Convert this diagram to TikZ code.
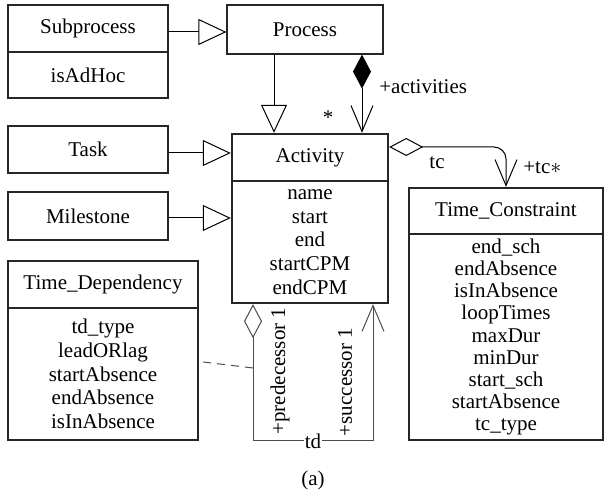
\documentclass[tikz,border=0pt]{standalone}
\usepackage{fontspec}
\setmainfont{Liberation Serif}
\usetikzlibrary{arrows.meta}

\begin{document}
\begin{tikzpicture}[x=0.5pt, y=-0.5pt,
    cls/.style={rectangle, draw=black!85, line width=0.6pt, inner sep=0pt, align=center, font=\fontsize{10.5}{12}\selectfont},
    boldcls/.style={cls, line width=1.2pt},
    gen/.style={-{Triangle[open, length=14pt, width=13pt]}, line width=0.5pt},
    comp/.style={{Diamond[length=17pt, width=9pt]}-{Straight Barb[length=13pt, width=11pt]}, line width=0.5pt},
    agg/.style={{Diamond[open, length=17pt, width=9pt]}-{Straight Barb[length=13pt, width=11pt]}, line width=0.5pt},
    lbl/.style={font=\fontsize{10.5}{12}\selectfont, inner sep=1pt}]
    \useasboundingbox (0,0) rectangle (611,491);

    % Process hierarchy
    \node (sub) [cls, minimum width=80pt, minimum height=23.5pt] at (88,28.5) {Subprocess};
    \node (subB) [cls, minimum width=80pt, minimum height=23pt] at (88,75) {isAdHoc};
    \node (proc) [cls, minimum width=78pt, minimum height=24.5pt] at (305,29.5) {Process};
    \node (task) [cls, minimum width=80pt, minimum height=23.5pt] at (88,149.5) {Task};
    \node (ms) [cls, minimum width=80pt, minimum height=24pt] at (88,216) {Milestone};

    % Activity
    \node (act) [boldcls, minimum width=78pt, minimum height=23.5pt] at (310,157.5) {Activity};
    \node (actB) [boldcls, minimum width=78pt, minimum height=61pt, font=\fontsize{10.5}{11.9}\selectfont] at (310,242)
        {name\\start\\end\\startCPM\\endCPM};

    % Time_Dependency
    \node (td) [boldcls, minimum width=95pt, minimum height=23.5pt] at (103,284.5) {Time\_Dependency};
    \node (tdB) [boldcls, minimum width=95pt, minimum height=66pt, font=\fontsize{10.5}{11.9}\selectfont] at (103,374)
        {td\_type\\leadORlag\\startAbsence\\endAbsence\\isInAbsence};

    % Time_Constraint
    \node (tc) [boldcls, minimum width=97pt, minimum height=23pt] at (506,211) {Time\_Constraint};
    \node (tcB) [boldcls, minimum width=97pt, minimum height=103pt, font=\fontsize{10.5}{11.1}\selectfont] at (506,337)
        {end\_sch\\endAbsence\\isInAbsence\\loopTimes\\maxDur\\minDur\\start\_sch\\startAbsence\\tc\_type};

    % generalisations
    \draw[gen] ([yshift=-1.75pt]sub.east) -- ([yshift=-1.25pt]proc.west);
    \draw[gen] ([xshift=-15.5pt]proc.south) -- ([xshift=-18pt]act.north);
    \draw[gen] ([yshift=-1.75pt]task.east) -- ([yshift=2.25pt]act.west);
    \draw[gen] ([yshift=-1pt]ms.east) -- ([yshift=12pt]actB.west);

    % activities
    \draw[comp] ([xshift=28.5pt]proc.south) -- ([xshift=26pt]act.north);
    \node[lbl, anchor=west] at (377,87) {+activities};
    \node[lbl] at (328,118) {*};

    % tc
    \draw[agg, rounded corners=6pt] ([yshift=5.25pt]act.east) -| (tc.north);
    \node[lbl] at (437,163) {tc};
    \node[lbl, anchor=west] at (521,168) {+tc$\ast$};

    % td
    \coordinate (tdl) at (253,441);
    \coordinate (tdr) at (373,441);
    \coordinate (tdj) at (253,368);
    \draw[agg, draw=black!70] ([xshift=-28.5pt]actB.south) -- (tdl) -- node[lbl, fill=white, inner sep=0.5pt] {td} (tdr) -- ([xshift=31.5pt]actB.south);
    \draw[dashed, draw=black!70, line width=0.5pt, dash pattern=on 4pt off 3pt] ([xshift=2pt, yshift=6pt]tdB.east) -- (tdj);
    \node[lbl, rotate=90] at (280,371) {+predecessor 1};
    \node[lbl, rotate=90] at (345,382) {+successor 1};

    \node[lbl] at (313,480) {(a)};
\end{tikzpicture}
\end{document}
